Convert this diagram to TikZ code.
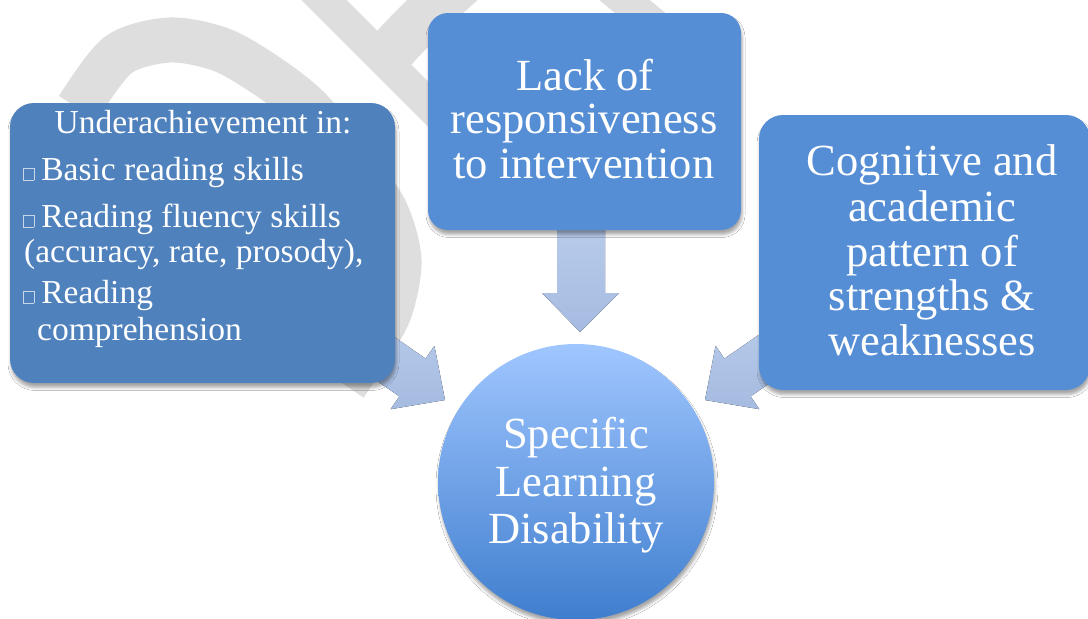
\documentclass[tikz,border=0pt]{standalone}
\usepackage{fontspec}
\setmainfont{Liberation Serif}
\usetikzlibrary{shadows.blur}

\definecolor{markgrey}{HTML}{DEDEDE}
\definecolor{leftblue}{HTML}{4F81BD}
\definecolor{boxblue}{HTML}{558ED5}
\definecolor{arrowtop}{HTML}{B9CCEB}
\definecolor{arrowbot}{HTML}{A5BBE0}
\definecolor{discTop}{HTML}{A0C6FF}
\definecolor{discBot}{HTML}{3F7ECE}
\definecolor{tofu}{HTML}{C9D6EA}

% empty placeholder square standing in front of each bullet item
\newcommand\tofubox{{\color{tofu}\setlength{\fboxsep}{0pt}\setlength{\fboxrule}{0.6pt}\fbox{\rule{0pt}{11.5pt}\hspace{10pt}}}\hspace{7pt}}

\tikzset{
  wmstroke/.style={draw=markgrey, line width=45pt},
  softshadow/.style={blur shadow={shadow xshift=1pt, shadow yshift=-4.5pt, shadow blur radius=3pt, shadow opacity=35}},
  card/.style={rectangle, rounded corners=24pt, inner sep=0pt, draw=none, softshadow},
  bigtext/.style={text=white, font=\fontsize{44.5}{44.5}\selectfont, inner sep=0pt},
  smalltext/.style={text=white, font=\fontsize{33.5}{33.5}\selectfont, inner sep=0pt},
  blockarrow/.style={top color=arrowtop, bottom color=arrowbot, draw=none},
}

\begin{document}
\begin{tikzpicture}[x=1pt,y=-1pt]
\useasboundingbox (0,0) rectangle (1088,619);
\fill[white] (0,0) rectangle (1088,619);

\begin{scope}
\clip (0,0) rectangle (1088,619);

% faint background lettering
\draw[wmstroke] plot[smooth] coordinates {(78,108) (118,55) (170,40) (222,50) (270,78) (310,110) (350,160) (385,210) (399,260) (390,310) (368,350) (345,385)};
\draw[wmstroke, line width=32pt] (305,-19) -- (450,126);
\draw[wmstroke, line width=48pt] (385,58) .. controls (410,30) and (435,5) .. (470,-25);
\draw[wmstroke, line width=32pt] (600,-20) -- (700,62);

% block arrows feeding the central disc
\fill[blockarrow] (557,220) -- (557,293) -- (542,293) -- (580,332) -- (619,293) -- (605,293) -- (605,220) -- cycle;
\fill[blockarrow] (351.5,307.3) -- (425.6,358.6) -- (434.4,345.8) -- (445,400) -- (390.6,409.2) -- (399.4,396.4) -- (325.3,345.1) -- cycle;
\fill[blockarrow] (798.5,307.3) -- (724.4,358.6) -- (715.6,345.8) -- (705,400) -- (759.4,409.2) -- (750.6,396.4) -- (824.7,345.1) -- cycle;

% boxes
\node[card, fill=leftblue, minimum width=385pt, minimum height=280pt] (under) at (202.5,243) {};
\node[card, fill=boxblue, rounded corners=20pt, minimum width=313pt, minimum height=217pt] (lack) at (584.5,121.5) {};
\node[card, fill=boxblue, minimum width=331pt, minimum height=275pt] (cog) at (924.5,252.5) {};

% central disc
\node[circle, minimum size=276pt, inner sep=0pt, top color=discTop, bottom color=discBot, softshadow] (sld) at (576,482) {};
\end{scope}

% left box text
\node[smalltext, anchor=base] (ua) at (203,133) {Underachievement in:};
\node[smalltext, anchor=base west] (i1) at (23,180) {\tofubox Basic reading skills};
\node[smalltext, anchor=base west] (i2) at (23,227) {\tofubox Reading fluency skills};
\node[smalltext, anchor=base west] (i2b) at (24,262) {(accuracy, rate, prosody),};
\node[smalltext, anchor=base west] (i3) at (23,303) {\tofubox Reading};
\node[smalltext, anchor=base west] (i3b) at (37,340) {comprehension};

% top box text
\node[bigtext, anchor=base] (l1) at (585,90) {Lack of};
\node[bigtext, anchor=base] (l2) at (584,133) {responsiveness};
\node[bigtext, anchor=base] (l3) at (584,178) {to intervention};

% right box text
\node[bigtext, anchor=base] (c1) at (932,175) {Cognitive and};
\node[bigtext, anchor=base] (c2) at (932,221) {academic};
\node[bigtext, anchor=base] (c3) at (932,266) {pattern of};
\node[bigtext, anchor=base] (c4) at (932,310) {strengths \&};
\node[bigtext, anchor=base] (c5) at (932,355) {weaknesses};

% disc text
\node[bigtext, anchor=base] (s1) at (576,448) {Specific};
\node[bigtext, anchor=base] (s2) at (576,496) {Learning};
\node[bigtext, anchor=base] (s3) at (576,543) {Disability};
\end{tikzpicture}
\end{document}
